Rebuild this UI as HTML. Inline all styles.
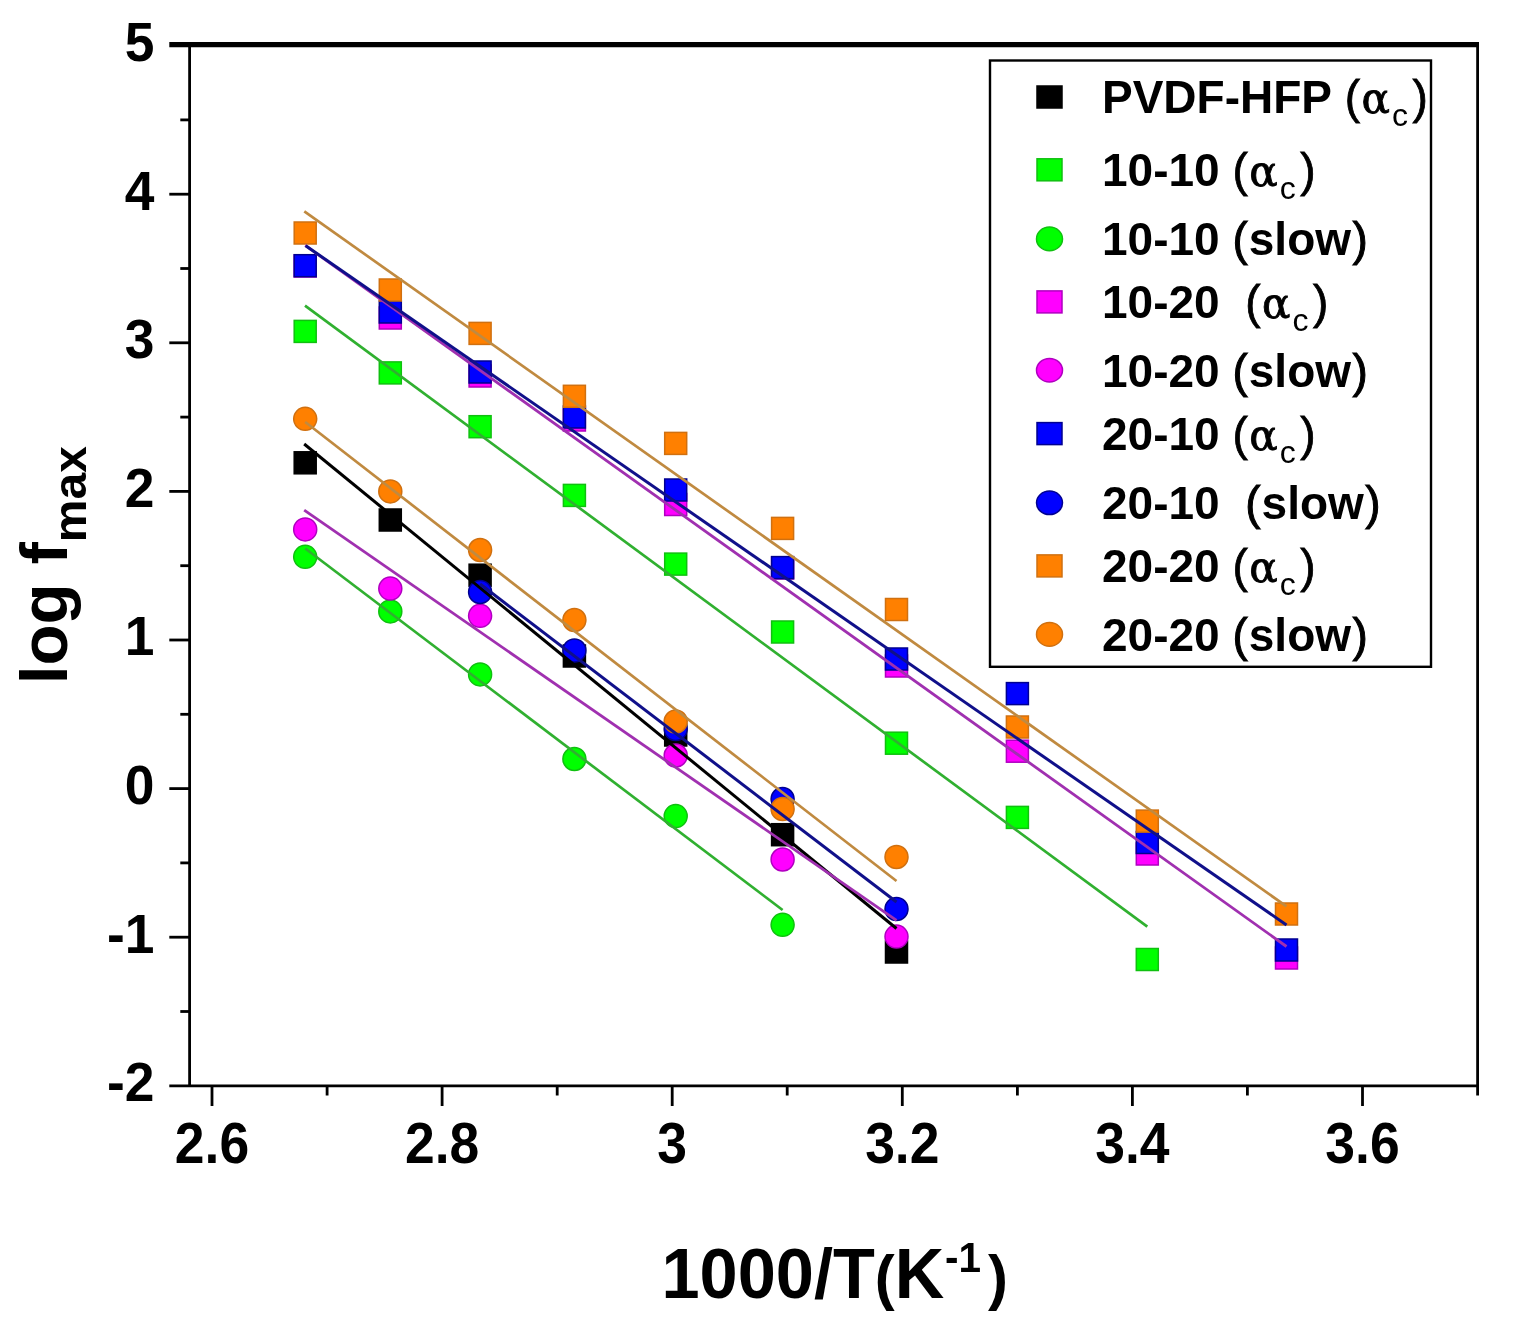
<!DOCTYPE html><html><head><meta charset="utf-8"><title>log fmax vs 1000/T</title><style>
html,body{margin:0;padding:0;background:#fff;width:1521px;height:1332px;overflow:hidden}
svg{display:block}
.t{font-family:"Liberation Sans",Arial,sans-serif;font-weight:bold;fill:#000}
.r{font-family:"Liberation Sans",Arial,sans-serif;font-weight:normal}
.g{font-family:"DejaVu Serif","Liberation Serif",serif;font-weight:normal}
</style></head><body>
<svg width="1521" height="1332" viewBox="0 0 1521 1332">
<rect width="1521" height="1332" fill="#fff"/>
<rect x="294.2" y="451.8" width="22.0" height="22.0" fill="#000000" stroke="#000000" stroke-width="1.5"/>
<rect x="379.3" y="509.0" width="22.0" height="22.0" fill="#000000" stroke="#000000" stroke-width="1.5"/>
<rect x="469.1" y="564.2" width="22.0" height="22.0" fill="#000000" stroke="#000000" stroke-width="1.5"/>
<rect x="563.4" y="645.0" width="22.0" height="22.0" fill="#000000" stroke="#000000" stroke-width="1.5"/>
<rect x="664.7" y="724.0" width="22.0" height="22.0" fill="#000000" stroke="#000000" stroke-width="1.5"/>
<rect x="771.6" y="823.7" width="22.0" height="22.0" fill="#000000" stroke="#000000" stroke-width="1.5"/>
<rect x="885.5" y="941.0" width="22.0" height="22.0" fill="#000000" stroke="#000000" stroke-width="1.5"/>
<rect x="294.2" y="320.4" width="22.0" height="22.0" fill="#00ff00" stroke="#10c010" stroke-width="1.5"/>
<rect x="379.3" y="361.9" width="22.0" height="22.0" fill="#00ff00" stroke="#10c010" stroke-width="1.5"/>
<rect x="469.1" y="415.7" width="22.0" height="22.0" fill="#00ff00" stroke="#10c010" stroke-width="1.5"/>
<rect x="563.4" y="484.4" width="22.0" height="22.0" fill="#00ff00" stroke="#10c010" stroke-width="1.5"/>
<rect x="664.7" y="553.1" width="22.0" height="22.0" fill="#00ff00" stroke="#10c010" stroke-width="1.5"/>
<rect x="771.6" y="621.0" width="22.0" height="22.0" fill="#00ff00" stroke="#10c010" stroke-width="1.5"/>
<rect x="885.5" y="732.2" width="22.0" height="22.0" fill="#00ff00" stroke="#10c010" stroke-width="1.5"/>
<rect x="1006.4" y="806.4" width="22.0" height="22.0" fill="#00ff00" stroke="#10c010" stroke-width="1.5"/>
<rect x="1136.3" y="948.5" width="22.0" height="22.0" fill="#00ff00" stroke="#10c010" stroke-width="1.5"/>
<circle cx="305.2" cy="556.8" r="11.5" fill="#00ff00" stroke="#10c010" stroke-width="1.5"/>
<circle cx="390.3" cy="611.4" r="11.5" fill="#00ff00" stroke="#10c010" stroke-width="1.5"/>
<circle cx="480.1" cy="674.4" r="11.5" fill="#00ff00" stroke="#10c010" stroke-width="1.5"/>
<circle cx="574.4" cy="759" r="11.5" fill="#00ff00" stroke="#10c010" stroke-width="1.5"/>
<circle cx="675.7" cy="816.1" r="11.5" fill="#00ff00" stroke="#10c010" stroke-width="1.5"/>
<circle cx="782.6" cy="924.8" r="11.5" fill="#00ff00" stroke="#10c010" stroke-width="1.5"/>
<rect x="294.2" y="255.0" width="22.0" height="22.0" fill="#ff00ff" stroke="#b000c0" stroke-width="1.5"/>
<rect x="379.3" y="307.0" width="22.0" height="22.0" fill="#ff00ff" stroke="#b000c0" stroke-width="1.5"/>
<rect x="469.1" y="365.0" width="22.0" height="22.0" fill="#ff00ff" stroke="#b000c0" stroke-width="1.5"/>
<rect x="563.4" y="409.0" width="22.0" height="22.0" fill="#ff00ff" stroke="#b000c0" stroke-width="1.5"/>
<rect x="664.7" y="493.5" width="22.0" height="22.0" fill="#ff00ff" stroke="#b000c0" stroke-width="1.5"/>
<rect x="771.6" y="557.0" width="22.0" height="22.0" fill="#ff00ff" stroke="#b000c0" stroke-width="1.5"/>
<rect x="885.5" y="655.0" width="22.0" height="22.0" fill="#ff00ff" stroke="#b000c0" stroke-width="1.5"/>
<rect x="1006.4" y="740.2" width="22.0" height="22.0" fill="#ff00ff" stroke="#b000c0" stroke-width="1.5"/>
<rect x="1136.3" y="843.0" width="22.0" height="22.0" fill="#ff00ff" stroke="#b000c0" stroke-width="1.5"/>
<rect x="1275.5" y="947.0" width="22.0" height="22.0" fill="#ff00ff" stroke="#b000c0" stroke-width="1.5"/>
<circle cx="305.2" cy="529.4" r="11.5" fill="#ff00ff" stroke="#b000c0" stroke-width="1.5"/>
<circle cx="390.3" cy="588.6" r="11.5" fill="#ff00ff" stroke="#b000c0" stroke-width="1.5"/>
<circle cx="480.1" cy="615.8" r="11.5" fill="#ff00ff" stroke="#b000c0" stroke-width="1.5"/>
<circle cx="675.7" cy="755.5" r="11.5" fill="#ff00ff" stroke="#b000c0" stroke-width="1.5"/>
<circle cx="782.6" cy="859.5" r="11.5" fill="#ff00ff" stroke="#b000c0" stroke-width="1.5"/>
<circle cx="896.5" cy="936.6" r="11.5" fill="#ff00ff" stroke="#b000c0" stroke-width="1.5"/>
<rect x="294.2" y="254.7" width="22.0" height="22.0" fill="#0000ff" stroke="#000090" stroke-width="1.5"/>
<rect x="379.3" y="301.0" width="22.0" height="22.0" fill="#0000ff" stroke="#000090" stroke-width="1.5"/>
<rect x="469.1" y="361.0" width="22.0" height="22.0" fill="#0000ff" stroke="#000090" stroke-width="1.5"/>
<rect x="563.4" y="406.0" width="22.0" height="22.0" fill="#0000ff" stroke="#000090" stroke-width="1.5"/>
<rect x="664.7" y="479.0" width="22.0" height="22.0" fill="#0000ff" stroke="#000090" stroke-width="1.5"/>
<rect x="771.6" y="556.6" width="22.0" height="22.0" fill="#0000ff" stroke="#000090" stroke-width="1.5"/>
<rect x="885.5" y="648.0" width="22.0" height="22.0" fill="#0000ff" stroke="#000090" stroke-width="1.5"/>
<rect x="1006.4" y="682.6" width="22.0" height="22.0" fill="#0000ff" stroke="#000090" stroke-width="1.5"/>
<rect x="1136.3" y="831.5" width="22.0" height="22.0" fill="#0000ff" stroke="#000090" stroke-width="1.5"/>
<rect x="1275.5" y="939.0" width="22.0" height="22.0" fill="#0000ff" stroke="#000090" stroke-width="1.5"/>
<circle cx="480.1" cy="592" r="11.5" fill="#0000ff" stroke="#000090" stroke-width="1.5"/>
<circle cx="574.4" cy="650.5" r="11.5" fill="#0000ff" stroke="#000090" stroke-width="1.5"/>
<circle cx="675.7" cy="729" r="11.5" fill="#0000ff" stroke="#000090" stroke-width="1.5"/>
<circle cx="782.6" cy="799" r="11.5" fill="#0000ff" stroke="#000090" stroke-width="1.5"/>
<circle cx="896.5" cy="909" r="11.5" fill="#0000ff" stroke="#000090" stroke-width="1.5"/>
<rect x="294.2" y="222.0" width="22.0" height="22.0" fill="#ff8000" stroke="#d07010" stroke-width="1.5"/>
<rect x="379.3" y="279.0" width="22.0" height="22.0" fill="#ff8000" stroke="#d07010" stroke-width="1.5"/>
<rect x="469.1" y="322.4" width="22.0" height="22.0" fill="#ff8000" stroke="#d07010" stroke-width="1.5"/>
<rect x="563.4" y="385.3" width="22.0" height="22.0" fill="#ff8000" stroke="#d07010" stroke-width="1.5"/>
<rect x="664.7" y="432.4" width="22.0" height="22.0" fill="#ff8000" stroke="#d07010" stroke-width="1.5"/>
<rect x="771.6" y="517.4" width="22.0" height="22.0" fill="#ff8000" stroke="#d07010" stroke-width="1.5"/>
<rect x="885.5" y="598.5" width="22.0" height="22.0" fill="#ff8000" stroke="#d07010" stroke-width="1.5"/>
<rect x="1006.4" y="716.0" width="22.0" height="22.0" fill="#ff8000" stroke="#d07010" stroke-width="1.5"/>
<rect x="1136.3" y="810.1" width="22.0" height="22.0" fill="#ff8000" stroke="#d07010" stroke-width="1.5"/>
<rect x="1275.5" y="903.0" width="22.0" height="22.0" fill="#ff8000" stroke="#d07010" stroke-width="1.5"/>
<circle cx="305.2" cy="418.8" r="11.5" fill="#ff8000" stroke="#d07010" stroke-width="1.5"/>
<circle cx="390.3" cy="491.4" r="11.5" fill="#ff8000" stroke="#d07010" stroke-width="1.5"/>
<circle cx="480.1" cy="550" r="11.5" fill="#ff8000" stroke="#d07010" stroke-width="1.5"/>
<circle cx="574.4" cy="620" r="11.5" fill="#ff8000" stroke="#d07010" stroke-width="1.5"/>
<circle cx="675.7" cy="721.5" r="11.5" fill="#ff8000" stroke="#d07010" stroke-width="1.5"/>
<circle cx="782.6" cy="809" r="11.5" fill="#ff8000" stroke="#d07010" stroke-width="1.5"/>
<circle cx="896.5" cy="857" r="11.5" fill="#ff8000" stroke="#d07010" stroke-width="1.5"/>
<line x1="305.0" y1="305.7" x2="1147.3" y2="926.7" stroke="#30b030" stroke-width="2.7"/>
<line x1="305.2" y1="548.5" x2="782.6" y2="910.0" stroke="#30b030" stroke-width="2.7"/>
<line x1="304.2" y1="444.0" x2="896.5" y2="928.5" stroke="#000000" stroke-width="3.0"/>
<line x1="305.2" y1="245.4" x2="1286.5" y2="946.5" stroke="#a030b0" stroke-width="2.8"/>
<line x1="304.2" y1="510.1" x2="896.5" y2="920.3" stroke="#a030b0" stroke-width="2.8"/>
<line x1="305.7" y1="245.7" x2="1286.5" y2="924.9" stroke="#10108a" stroke-width="3.0"/>
<line x1="480.1" y1="584.0" x2="896.5" y2="902.0" stroke="#10108a" stroke-width="3.0"/>
<line x1="304.3" y1="211.4" x2="1286.5" y2="906.4" stroke="#c08a40" stroke-width="2.7"/>
<line x1="305.2" y1="422.0" x2="896.5" y2="881.0" stroke="#c08a40" stroke-width="2.7"/>
<g stroke="#000" fill="none" stroke-linecap="butt">
<line x1="169.3" y1="44.6" x2="1479" y2="44.6" stroke-width="5.2"/>
<line x1="169.3" y1="1085.8" x2="1479" y2="1085.8" stroke-width="2.8"/>
<line x1="189.6" y1="44" x2="189.6" y2="1087" stroke-width="2.8"/>
<line x1="1477.6" y1="44" x2="1477.6" y2="1095.5" stroke-width="2.8"/>
<line x1="169.3" y1="937.2" x2="189.6" y2="937.2" stroke-width="2.8"/>
<line x1="169.3" y1="788.6" x2="189.6" y2="788.6" stroke-width="2.8"/>
<line x1="169.3" y1="640.0" x2="189.6" y2="640.0" stroke-width="2.8"/>
<line x1="169.3" y1="491.4" x2="189.6" y2="491.4" stroke-width="2.8"/>
<line x1="169.3" y1="342.8" x2="189.6" y2="342.8" stroke-width="2.8"/>
<line x1="169.3" y1="194.2" x2="189.6" y2="194.2" stroke-width="2.8"/>
<line x1="180.3" y1="1011.5" x2="189.6" y2="1011.5" stroke-width="2.8"/>
<line x1="180.3" y1="862.9" x2="189.6" y2="862.9" stroke-width="2.8"/>
<line x1="180.3" y1="714.3" x2="189.6" y2="714.3" stroke-width="2.8"/>
<line x1="180.3" y1="565.7" x2="189.6" y2="565.7" stroke-width="2.8"/>
<line x1="180.3" y1="417.1" x2="189.6" y2="417.1" stroke-width="2.8"/>
<line x1="180.3" y1="268.5" x2="189.6" y2="268.5" stroke-width="2.8"/>
<line x1="180.3" y1="119.9" x2="189.6" y2="119.9" stroke-width="2.8"/>
<line x1="212.0" y1="1085.8" x2="212.0" y2="1106" stroke-width="2.8"/>
<line x1="442.1" y1="1085.8" x2="442.1" y2="1106" stroke-width="2.8"/>
<line x1="672.2" y1="1085.8" x2="672.2" y2="1106" stroke-width="2.8"/>
<line x1="902.3" y1="1085.8" x2="902.3" y2="1106" stroke-width="2.8"/>
<line x1="1132.4" y1="1085.8" x2="1132.4" y2="1106" stroke-width="2.8"/>
<line x1="1362.5" y1="1085.8" x2="1362.5" y2="1106" stroke-width="2.8"/>
<line x1="327.1" y1="1085.8" x2="327.1" y2="1095.5" stroke-width="2.8"/>
<line x1="557.2" y1="1085.8" x2="557.2" y2="1095.5" stroke-width="2.8"/>
<line x1="787.2" y1="1085.8" x2="787.2" y2="1095.5" stroke-width="2.8"/>
<line x1="1017.4" y1="1085.8" x2="1017.4" y2="1095.5" stroke-width="2.8"/>
<line x1="1247.4" y1="1085.8" x2="1247.4" y2="1095.5" stroke-width="2.8"/>
</g>
<g transform="translate(154.5,61.0) scale(0.97,1.0)"><text class="t" x="0" y="0" font-size="55" text-anchor="end">5</text></g>
<g transform="translate(154.5,209.6) scale(0.97,1.0)"><text class="t" x="0" y="0" font-size="55" text-anchor="end">4</text></g>
<g transform="translate(154.5,358.2) scale(0.97,1.0)"><text class="t" x="0" y="0" font-size="55" text-anchor="end">3</text></g>
<g transform="translate(154.5,506.8) scale(0.97,1.0)"><text class="t" x="0" y="0" font-size="55" text-anchor="end">2</text></g>
<g transform="translate(154.5,655.4) scale(0.97,1.0)"><text class="t" x="0" y="0" font-size="55" text-anchor="end">1</text></g>
<g transform="translate(154.5,804.0) scale(0.97,1.0)"><text class="t" x="0" y="0" font-size="55" text-anchor="end">0</text></g>
<g transform="translate(154.5,952.6) scale(0.97,1.0)"><text class="t" x="0" y="0" font-size="55" text-anchor="end">-1</text></g>
<g transform="translate(154.5,1101.2) scale(0.97,1.0)"><text class="t" x="0" y="0" font-size="55" text-anchor="end">-2</text></g>
<g transform="translate(212.0,1162.8) scale(0.93,1.0)"><text class="t" x="0" y="0" font-size="57.5" text-anchor="middle">2.6</text></g>
<g transform="translate(442.1,1162.8) scale(0.93,1.0)"><text class="t" x="0" y="0" font-size="57.5" text-anchor="middle">2.8</text></g>
<g transform="translate(672.2,1162.8) scale(0.93,1.0)"><text class="t" x="0" y="0" font-size="57.5" text-anchor="middle">3</text></g>
<g transform="translate(902.3,1162.8) scale(0.93,1.0)"><text class="t" x="0" y="0" font-size="57.5" text-anchor="middle">3.2</text></g>
<g transform="translate(1132.4,1162.8) scale(0.93,1.0)"><text class="t" x="0" y="0" font-size="57.5" text-anchor="middle">3.4</text></g>
<g transform="translate(1362.5,1162.8) scale(0.93,1.0)"><text class="t" x="0" y="0" font-size="57.5" text-anchor="middle">3.6</text></g>
<g transform="translate(661.5,1297.5) scale(0.965,1.0)"><text class="t" x="0" y="0" font-size="71" text-anchor="start">1000/T<tspan font-size="62">(</tspan>K<tspan font-size="42" dy="-25.5" dx="1">-1</tspan><tspan font-size="62" dy="25.5" dx="7">)</tspan></text></g>
<g transform="translate(67.3,684.2) rotate(-90) scale(1.02,1)"><text class="t" x="0" y="0" font-size="66">log f<tspan font-size="47" dy="18.5">max</tspan></text></g>
<rect x="990" y="60.5" width="441" height="606.3" fill="#fff" stroke="#000" stroke-width="2.4"/>
<rect x="1037.0" y="86.0" width="25" height="22" fill="#000000" stroke="#000000" stroke-width="1.5"/>
<text class="t" x="1102" y="113.4" font-size="46">PVDF-HFP&#160;<tspan class="r" stroke="#000" stroke-width="0.8">(</tspan><tspan class="g" font-size="42" dx="1.5" stroke="#000" stroke-width="0.9">α</tspan><tspan class="r" font-size="32" dy="12.5" dx="2">c</tspan><tspan class="r" dy="-12.5" dx="4.5" stroke="#000" stroke-width="0.8">)</tspan></text>
<rect x="1037.0" y="158.8" width="25" height="22" fill="#00ff00" stroke="#10c010" stroke-width="1.5"/>
<text class="t" x="1102" y="186.2" font-size="46">10-10&#160;<tspan class="r" stroke="#000" stroke-width="0.8">(</tspan><tspan class="g" font-size="42" dx="1.5" stroke="#000" stroke-width="0.9">α</tspan><tspan class="r" font-size="32" dy="12.5" dx="2">c</tspan><tspan class="r" dy="-12.5" dx="4.5" stroke="#000" stroke-width="0.8">)</tspan></text>
<ellipse cx="1049.5" cy="238.9" rx="13" ry="11.8" fill="#00ff00" stroke="#10c010" stroke-width="1.5"/>
<text class="t" x="1102" y="255.3" font-size="46">10-10&#160;<tspan class="r" stroke="#000" stroke-width="1">(</tspan><tspan dx="1">slow</tspan><tspan class="r" stroke="#000" stroke-width="1" dx="1.5">)</tspan></text>
<rect x="1037.0" y="290.9" width="25" height="22" fill="#ff00ff" stroke="#b000c0" stroke-width="1.5"/>
<text class="t" x="1102" y="318.3" font-size="46">10-20&#160;&#160;<tspan class="r" stroke="#000" stroke-width="0.8">(</tspan><tspan class="g" font-size="42" dx="1.5" stroke="#000" stroke-width="0.9">α</tspan><tspan class="r" font-size="32" dy="12.5" dx="2">c</tspan><tspan class="r" dy="-12.5" dx="4.5" stroke="#000" stroke-width="0.8">)</tspan></text>
<ellipse cx="1049.5" cy="370.2" rx="13" ry="11.8" fill="#ff00ff" stroke="#b000c0" stroke-width="1.5"/>
<text class="t" x="1102" y="386.6" font-size="46">10-20&#160;<tspan class="r" stroke="#000" stroke-width="1">(</tspan><tspan dx="1">slow</tspan><tspan class="r" stroke="#000" stroke-width="1" dx="1.5">)</tspan></text>
<rect x="1037.0" y="422.6" width="25" height="22" fill="#0000ff" stroke="#000090" stroke-width="1.5"/>
<text class="t" x="1102" y="450.0" font-size="46">20-10&#160;<tspan class="r" stroke="#000" stroke-width="0.8">(</tspan><tspan class="g" font-size="42" dx="1.5" stroke="#000" stroke-width="0.9">α</tspan><tspan class="r" font-size="32" dy="12.5" dx="2">c</tspan><tspan class="r" dy="-12.5" dx="4.5" stroke="#000" stroke-width="0.8">)</tspan></text>
<ellipse cx="1049.5" cy="502.8" rx="13" ry="11.8" fill="#0000ff" stroke="#000090" stroke-width="1.5"/>
<text class="t" x="1102" y="519.2" font-size="46">20-10&#160;&#160;<tspan class="r" stroke="#000" stroke-width="1">(</tspan><tspan dx="1">slow</tspan><tspan class="r" stroke="#000" stroke-width="1" dx="1.5">)</tspan></text>
<rect x="1037.0" y="554.9" width="25" height="22" fill="#ff8000" stroke="#d07010" stroke-width="1.5"/>
<text class="t" x="1102" y="582.3" font-size="46">20-20&#160;<tspan class="r" stroke="#000" stroke-width="0.8">(</tspan><tspan class="g" font-size="42" dx="1.5" stroke="#000" stroke-width="0.9">α</tspan><tspan class="r" font-size="32" dy="12.5" dx="2">c</tspan><tspan class="r" dy="-12.5" dx="4.5" stroke="#000" stroke-width="0.8">)</tspan></text>
<ellipse cx="1049.5" cy="634.4" rx="13" ry="11.8" fill="#ff8000" stroke="#d07010" stroke-width="1.5"/>
<text class="t" x="1102" y="650.8" font-size="46">20-20&#160;<tspan class="r" stroke="#000" stroke-width="1">(</tspan><tspan dx="1">slow</tspan><tspan class="r" stroke="#000" stroke-width="1" dx="1.5">)</tspan></text>
</svg></body></html>
